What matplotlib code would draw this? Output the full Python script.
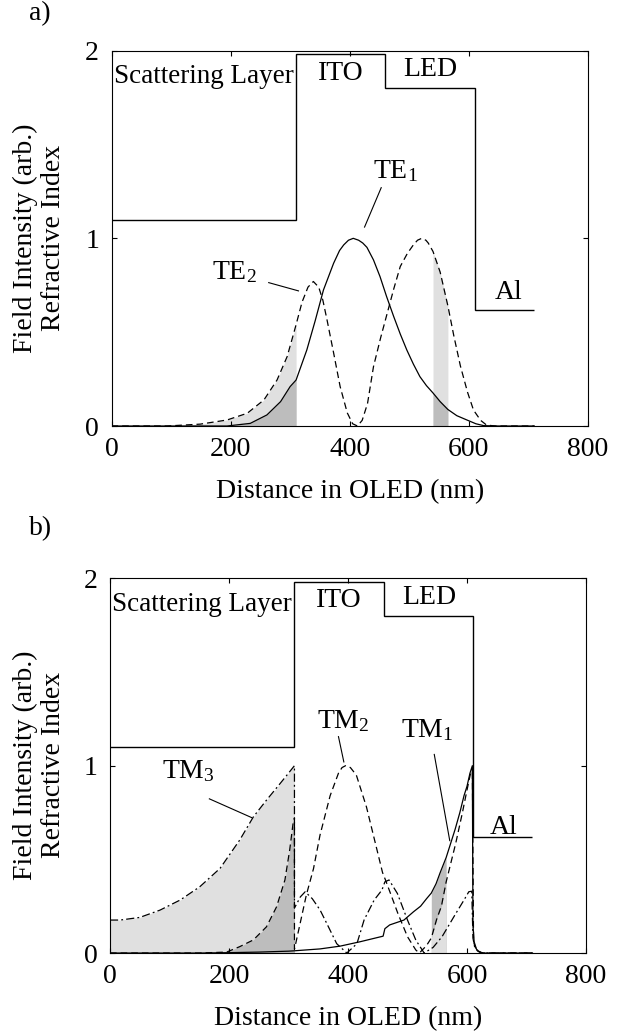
import numpy as np
import matplotlib
matplotlib.use('Agg')
import matplotlib.pyplot as plt

plt.rcParams['font.family'] = 'Liberation Serif'
plt.rcParams['mathtext.fontset'] = 'custom'
plt.rcParams['mathtext.rm'] = 'Liberation Serif'
plt.rcParams['mathtext.default'] = 'regular'

FS = 20

# layer stack: boundaries in nm and refractive index of each layer
layer_edges = [0, 310, 460, 610, 710]
layer_index = [1.1, 1.98, 1.8, 0.62]
glass_index = 1.54
layer_names = ['Scattering Layer', 'ITO', 'LED', 'Al']

# a) TE modes
te1_x = [0, 100, 150, 194, 233, 261, 284, 300, 310, 328, 342, 356, 373, 383, 390,
         398, 406, 415, 422, 429, 440, 451, 462, 474, 485, 496, 507, 518, 529, 540,
         552, 565, 580, 597, 612, 625, 650, 710]
te1_y = [0, 0, 0, 0, 0.014, 0.059, 0.13, 0.21, 0.245, 0.405, 0.56, 0.725, 0.867,
         0.935, 0.965, 0.99, 1.0, 0.99, 0.975, 0.952, 0.885, 0.796, 0.69, 0.583,
         0.49, 0.405, 0.33, 0.263, 0.215, 0.176, 0.13, 0.088, 0.055, 0.032, 0.012,
         0.002, 0, 0]

te2_x = [0, 93, 149, 194, 228, 256, 278, 295, 306, 310, 320, 330, 339, 348, 355,
         362, 373, 384, 396, 405, 413, 421, 430, 440, 452, 463, 474, 485, 497, 507,
         514, 521, 528, 532, 540, 552, 565, 575, 586, 598, 608, 620, 630, 645, 710]
te2_y = [0, 0, 0.01, 0.032, 0.068, 0.139, 0.245, 0.37, 0.494, 0.54, 0.66, 0.74,
         0.77, 0.74, 0.67, 0.565, 0.39, 0.21, 0.07, 0.012, 0, 0.03, 0.12, 0.316,
         0.47, 0.60, 0.73, 0.85, 0.92, 0.965, 0.99, 1.0, 0.99, 0.975, 0.93, 0.82,
         0.64, 0.48, 0.32, 0.18, 0.085, 0.03, 0.005, 0, 0]

# b) TM modes
tm1_x = [0, 150, 200, 250, 300, 310, 353, 387, 420, 455, 459, 462, 470, 494, 510,
         522, 532, 540, 548, 555, 565, 571, 580, 588, 595, 600, 605, 609, 610, 612,
         616, 621, 627, 710]
tm1_y = [0, 0, 0.002, 0.005, 0.01, 0.012, 0.022, 0.037, 0.06, 0.087, 0.09, 0.13,
         0.15, 0.176, 0.22, 0.25, 0.29, 0.32, 0.37, 0.43, 0.51, 0.57, 0.66, 0.75,
         0.84, 0.89, 0.96, 1.0, 0.15, 0.06, 0.02, 0.006, 0, 0]

tm2_x = [0, 150, 196, 218, 241, 263, 280, 294, 302, 308, 310, 310, 319, 330, 342,
         353, 370, 384, 390, 396, 404, 414, 431, 448, 458, 463, 484, 500, 514, 520,
         532, 540, 549, 557, 565, 581, 592, 600, 606, 609, 611, 614, 619, 626, 710]
tm2_y = [0, 0, 0.005, 0.034, 0.07, 0.14, 0.247, 0.39, 0.55, 0.70, 0.72, 0.02, 0.15,
         0.31, 0.45, 0.63, 0.84, 0.96, 0.99, 1.0, 0.99, 0.95, 0.78, 0.56, 0.43, 0.39,
         0.21, 0.087, 0.016, 0, 0.04, 0.08, 0.18, 0.25, 0.38, 0.585, 0.745, 0.87,
         0.96, 0.97, 0.06, 0.03, 0.01, 0, 0]

tm3_x = [0, 17, 50, 84, 118, 151, 185, 218, 241, 263, 286, 300, 310, 310, 320, 328,
         340, 353, 364, 381, 398, 415, 427, 444, 457, 462, 469, 483, 500, 514, 528,
         543, 558, 581, 595, 603, 608, 610, 613, 618, 625, 710]
tm3_y = [0.176, 0.176, 0.19, 0.229, 0.283, 0.354, 0.452, 0.603, 0.727, 0.816, 0.905,
         0.96, 1.0, 0.24, 0.30, 0.327, 0.29, 0.23, 0.16, 0.05, 0, 0.05, 0.176, 0.283,
         0.336, 0.38, 0.39, 0.318, 0.176, 0.069, 0, 0.03, 0.087, 0.21, 0.283, 0.327,
         0.33, 0.08, 0.03, 0.01, 0, 0]

light = '#e0e0e0'
dark = '#bdbdbd'
dash = (0, (5.3, 3.2))
dashdot = (0, (6.5, 2.5, 1.5, 2.5))


def shade(ax, x, y, lo, hi, color, z):
    x = np.asarray(x, dtype=float)
    y = np.asarray(y, dtype=float)
    ax.fill_between(x, 0, y, where=(x >= lo) & (x <= hi), color=color, lw=0, zorder=z)


def setup(ax):
    ax.stairs(layer_index, layer_edges, baseline=None, color='k', lw=1.0, zorder=3)
    ax.vlines(layer_edges[0], layer_index[0], glass_index, color='k', lw=1.4, zorder=3)
    ax.set_xlim(0, 800)
    ax.set_ylim(0, 2)
    ax.set_xticks([0, 200, 400, 600, 800])
    ax.set_yticks([0, 1, 2])
    ax.tick_params(direction='in', top=True, right=True, length=3.5, width=0.8,
                   labelsize=FS)
    ax.tick_params(axis='x', pad=8)
    ax.tick_params(axis='y', pad=9)
    for s in ax.spines.values():
        s.set_linewidth(0.8)
    ax.text(4, 1.86, layer_names[0], fontsize=FS - 0.5, va='center', ha='left')
    ax.text(385, 1.88, layer_names[1], fontsize=FS, va='center', ha='center')
    ax.text(536, 1.9, layer_names[2], fontsize=FS, va='center', ha='center')
    ax.set_xlabel('Distance in OLED (nm)', fontsize=FS, labelpad=12)


fig = plt.figure(figsize=(6.41, 10.34), dpi=100)
ax1 = fig.add_axes([0.174, 0.588, 0.743, 0.363])
ax2 = fig.add_axes([0.1716, 0.0783, 0.7426, 0.3624])

# panel a
setup(ax1)
shade(ax1, te2_x, te2_y, 0, 310, light, 1)
shade(ax1, te1_x, te1_y, 0, 310, dark, 1.5)
shade(ax1, te2_x, te2_y, 540, 565, light, 1)
shade(ax1, te1_x, te1_y, 540, 565, dark, 1.5)
ax1.plot(te1_x, te1_y, color='k', lw=0.9, zorder=4)
ax1.plot(te2_x, te2_y, color='k', lw=0.9, linestyle=dash, zorder=4)
ax1.text(440, 1.36, r'TE$_1$', fontsize=FS, va='center')
ax1.plot([453, 425], [1.27, 1.06], color='k', lw=0.8)
ax1.text(168, 0.82, r'TE$_2$', fontsize=FS, va='center')
ax1.plot([264, 314], [0.764, 0.72], color='k', lw=0.8)
ax1.text(643, 0.71, layer_names[3], fontsize=FS, va='center')

# panel b
setup(ax2)
shade(ax2, tm3_x, tm3_y, 0, 310, light, 1)
shade(ax2, tm2_x, tm2_y, 0, 310, dark, 1.5)
shade(ax2, tm1_x, tm1_y, 540, 565, dark, 1)
shade(ax2, tm2_x, tm2_y, 540, 565, light, 1.5)
ax2.plot(tm1_x, tm1_y, color='k', lw=0.9, zorder=4)
ax2.plot(tm2_x, tm2_y, color='k', lw=0.9, linestyle=dash, zorder=4)
ax2.plot(tm3_x, tm3_y, color='k', lw=0.9, linestyle=dashdot, zorder=4)
ax2.text(88, 0.97, r'TM$_3$', fontsize=FS, va='center')
ax2.plot([167, 238], [0.823, 0.723], color='k', lw=0.8)
ax2.text(348, 1.24, r'TM$_2$', fontsize=FS, va='center')
ax2.plot([384, 393], [1.155, 1.02], color='k', lw=0.8)
ax2.text(489, 1.19, r'TM$_1$', fontsize=FS, va='center')
ax2.plot([545, 571], [1.06, 0.60], color='k', lw=0.8)
ax2.text(639, 0.67, layer_names[3], fontsize=FS, va='center')

ylab = 'Field Intensity (arb.)\nRefractive Index'
fig.text(39 / 641, 1 - 238 / 1034, ylab, rotation=90, fontsize=FS, ha='center',
         va='center', multialignment='center', linespacing=1.15)
fig.text(39 / 641, 1 - 765 / 1034, ylab, rotation=90, fontsize=FS, ha='center',
         va='center', multialignment='center', linespacing=1.15)
fig.text(29 / 641, 1 - 14 / 1034, 'a)', fontsize=FS, va='center')
fig.text(29 / 641, 1 - 529 / 1034, 'b)', fontsize=FS, va='center')

fig.savefig('out.png', dpi=100)
